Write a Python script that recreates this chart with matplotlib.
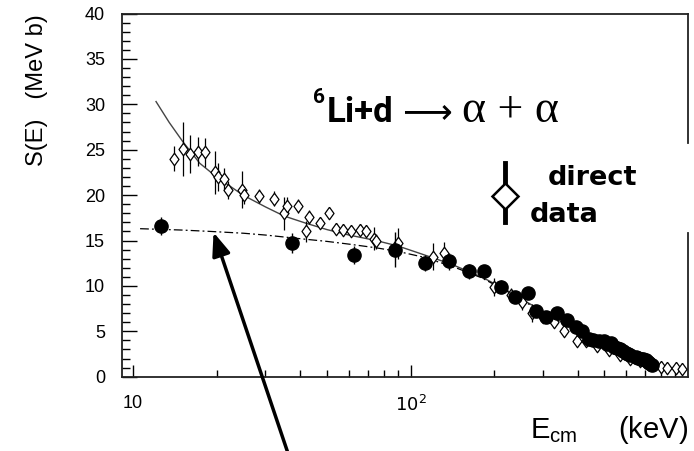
import matplotlib
matplotlib.use('Agg')
import matplotlib.pyplot as plt

# direct data: E_cm (keV), S(E) (MeV b), error
e_direct = [14.1, 15.1, 16.1, 17.1, 18.2, 19.8, 20.2, 21.2, 22.0, 24.7, 25.1, 28.4,
            32.1, 34.9, 35.8, 39.3, 42.0, 43.2, 47.0, 51.0, 53.9, 56.9, 61.0, 65.5,
            69.0, 74.0, 74.9, 89.9, 120, 131.8, 200, 230, 252, 275, 300, 330, 357,
            397, 430, 470, 520, 570, 620, 670, 720, 796, 841, 902, 949]
s_direct = [24.0, 25.1, 24.5, 24.8, 24.7, 22.5, 22.0, 21.8, 20.6, 20.6, 20.0, 19.9,
            19.6, 18.0, 18.8, 18.8, 16.0, 17.6, 16.9, 18.0, 16.3, 16.2, 16.0, 16.2,
            16.0, 15.2, 14.9, 14.7, 13.2, 13.6, 9.9, 9.0, 8.2, 7.0, 6.6, 6.0, 5.0,
            3.9, 3.9, 3.4, 2.9, 2.4, 2.0, 1.7, 1.4, 1.1, 1.0, 1.0, 0.85]
err_direct = [1.4, 3.0, 2.1, 1.6, 1.6, 2.4, 1.5, 1.2, 1.0, 2.0, 1.0, 0.8,
              0.8, 1.8, 1.0, 0.8, 1.2, 0.8, 0.6, 0.6, 0.6, 0.6, 0.6, 0.6,
              0.6, 1.3, 0.8, 1.7, 1.5, 1.2, 1.0, 0.8, 0.8, 1.0, 0.6, 0.6, 0.5,
              0.5, 0.5, 0.4, 0.4, 0.4, 0.3, 0.3, 0.3, 0.3, 0.3, 0.3, 0.3]

# indirect data (full circles)
e_thm = [12.6, 37.4, 62.7, 87.9, 113, 138, 163, 184, 211, 238, 264, 284, 307, 338,
         367, 394, 416, 440, 455, 477, 497, 510, 526, 541, 555, 570, 585, 596, 610,
         620, 647, 660, 675, 690, 703, 715, 725, 743]
s_thm = [16.6, 14.7, 13.4, 14.0, 12.5, 12.7, 11.6, 11.6, 9.9, 8.8, 9.2, 7.2, 6.6, 7.0,
         6.2, 5.5, 5.0, 4.2, 4.0, 3.9, 3.9, 3.6, 3.7, 3.3, 3.2, 3.0, 2.8, 2.6, 2.5,
         2.4, 2.2, 2.1, 2.0, 1.9, 1.8, 1.6, 1.5, 1.3]
err_thm = [1.0, 1.1, 1.0, 1.9, 0.9, 0.9, 0.8, 0.7, 0.7, 0.6, 0.6, 0.6, 0.5, 0.5,
           0.5, 0.5, 0.5, 0.5, 0.5, 0.5, 0.5, 0.5, 0.5, 0.5, 0.5, 0.5, 0.5, 0.5, 0.5,
           0.5, 0.5, 0.5, 0.5, 0.5, 0.5, 0.5, 0.5, 0.5]

# screened fit (solid) and bare S(E) (dash-dot)
e_fit = [12.1, 13.5, 15.1, 17.4, 20, 24.9, 30, 35, 42, 50, 60, 75, 90, 110, 140,
         180, 220, 270, 320, 380, 450, 530, 620, 700, 760]
s_fit = [30.3, 28.0, 25.9, 23.5, 22.0, 20.0, 18.7, 17.7, 16.9, 16.2, 15.6, 15.0, 14.4,
         13.5, 12.4, 11.0, 9.6, 8.0, 6.7, 5.4, 4.2, 3.1, 2.1, 1.5, 1.1]
e_bare = [10.6, 15, 19, 25, 30, 40, 50, 60, 75, 90, 110, 140, 180, 220, 270, 320,
          380, 450, 530, 620, 700, 760]
s_bare = [16.3, 16.15, 16.0, 15.8, 15.6, 15.2, 14.9, 14.6, 14.2, 13.8, 13.2, 12.2,
          10.9, 9.5, 7.9, 6.6, 5.3, 4.1, 3.0, 2.0, 1.4, 1.0]

W, H = 694, 451
def fx(px):
    return px / W
def fy(py):
    return 1 - py / H

fig = plt.figure(figsize=(W / 100, H / 100), dpi=100)
ax = fig.add_axes([fx(121.7), fy(376.7), fx(688) - fx(121.7), fy(13.5) - fy(376.7)])

diamond = [(0, 1), (0.72, 0), (0, -1), (-0.72, 0), (0, 1)]

ax.plot(e_fit, s_fit, '-', color='#444444', lw=1.0, zorder=2)
ax.plot(e_bare, s_bare, color='black', lw=0.9, dashes=(7, 2.5, 1.5, 2.5), zorder=2)

ax.errorbar(e_direct, s_direct, yerr=err_direct, fmt='none', ecolor='black',
            elinewidth=0.9, capsize=0, zorder=3)
ax.plot(e_direct, s_direct, ls='none', marker=diamond, ms=9, mfc='white',
        mec='black', mew=0.9, zorder=4)
ax.errorbar(e_thm, s_thm, yerr=err_thm, fmt='none', ecolor='black',
            elinewidth=1.0, capsize=0, zorder=5)
ax.plot(e_thm, s_thm, ls='none', marker='o', ms=9.5, mfc='black', mec='black', zorder=6)

ax.set_xscale('log')
ax.set_xlim(9.1, 1000)
ax.set_ylim(0, 40)
ax.set_yticks(range(0, 41, 5))
ax.set_yticks(range(0, 41), minor=True)
ax.set_xticks([10, 100])
ax.set_xticklabels(['10', '$10^2$'])
ax.tick_params(axis='y', which='major', direction='in', length=11, width=1, pad=12,
               labelsize=13)
ax.tick_params(axis='y', which='minor', direction='in', length=5.5, width=1)
ax.tick_params(axis='x', which='major', direction='in', length=9, width=1, pad=13,
               labelsize=13)
ax.tick_params(axis='x', which='minor', direction='in', length=5, width=1)
for lab in ax.get_xticklabels() + ax.get_yticklabels():
    lab.set_family('Liberation Sans')

for side in ['left', 'top', 'bottom']:
    ax.spines[side].set_linewidth(1.3)
    ax.spines[side].set_color('#222222')
# right frame line is broken next to the legend
ax.spines['right'].set_visible(False)
for y0, y1 in [(0.643, 1.0), (0.0, 0.396)]:
    ax.plot([1, 1], [y0, y1], transform=ax.transAxes, color='#222222', lw=1.3,
            clip_on=False)

# axis titles
fig.text(fx(37), fy(14), 'S(E)   (MeV b)', rotation=90, ha='center', va='top',
         fontsize=17, family='Liberation Sans')
fig.text(fx(688), fy(446), r'E$_{\mathregular{cm}}$     (keV)', ha='right',
         va='bottom', fontsize=21, family='Liberation Sans')

# reaction label
fig.text(fx(313), fy(103), '6', ha='left', va='baseline', fontsize=15,
         fontweight='bold', family='Roboto')
fig.text(fx(327), fy(122), 'Li+d', ha='left', va='baseline', fontsize=25,
         fontweight='bold', family='Roboto')
fig.text(fx(396), fy(121), r'$\longrightarrow$', ha='left', va='baseline',
         fontsize=25)
fig.text(fx(462), fy(122), '\u03b1 + \u03b1', ha='left', va='baseline', fontsize=33,
         family='Liberation Serif')

# legend symbol
ax.plot([0.677, 0.677], [0.426, 0.588], transform=ax.transAxes, color='black', lw=3.5,
        clip_on=False)
ax.plot([0.677], [0.4975], transform=ax.transAxes, ls='none', marker='D', ms=13,
        mfc='white', mec='black', mew=1.8, clip_on=False)
fig.text(fx(548), fy(185), 'direct', ha='left', va='baseline', fontsize=19.5,
         fontweight='bold', family='DejaVu Sans')
fig.text(fx(530), fy(222), 'data', ha='left', va='baseline', fontsize=19.5,
         fontweight='bold', family='DejaVu Sans')

# arrow pointing at the bare S(E) curve
ax.annotate('', xy=(19.5, 15.9), xycoords='data', xytext=(fx(288), -0.005),
            textcoords='figure fraction', annotation_clip=False,
            arrowprops=dict(arrowstyle='-|>,head_length=1.4,head_width=0.55',
                            color='black', lw=2.5, shrinkA=0, shrinkB=0))

fig.savefig('out.png', dpi=100)
